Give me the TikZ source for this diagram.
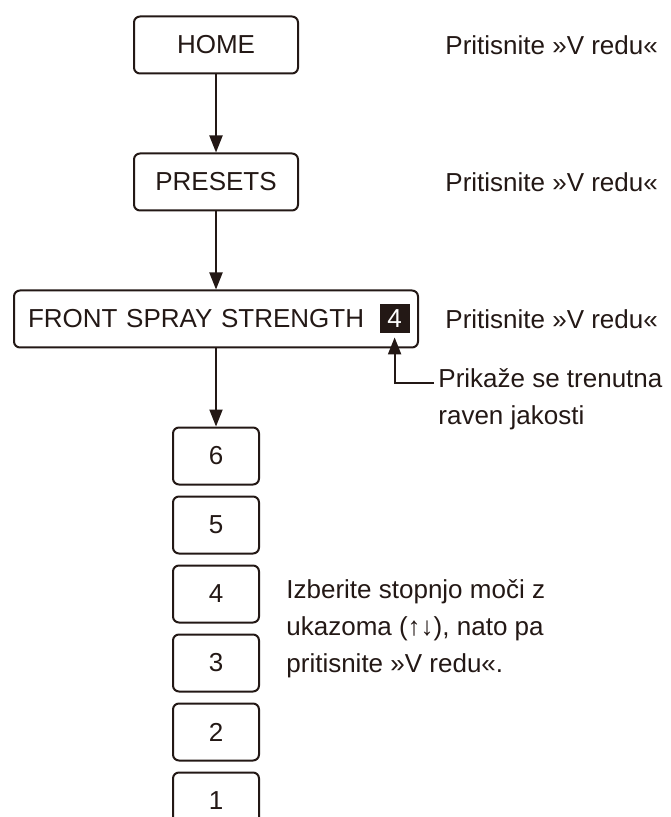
\documentclass[tikz,border=0pt]{standalone}
\usepackage{fontspec}
\setmainfont{Liberation Sans}
\usepackage{tikz}
\usetikzlibrary{arrows.meta,positioning,calc}
\usepackage{xcolor}
\definecolor{ink}{HTML}{231815}
\tikzset{
  panel/.style={draw=ink,line width=1pt,rounded corners=3pt,align=center,
    minimum height=28.5pt,inner sep=0pt,text=ink,font=\fontsize{13pt}{18.5pt}\selectfont},
  menu/.style={panel,minimum width=82pt},
  levelbox/.style={panel,minimum width=43pt},
  indicator/.style={fill=ink,text=white,minimum width=15pt,minimum height=14.5pt,
    inner sep=0pt,font=\fontsize{13pt}{18.5pt}\selectfont},
  note/.style={align=left,inner sep=0pt,text=ink,font=\fontsize{13pt}{18.5pt}\selectfont},
  arrow/.style={-{Triangle[length=8.5pt,width=6.5pt]},draw=ink,line width=1pt}
}
\begin{document}
\begin{tikzpicture}[node distance=39pt and 13pt]
  \useasboundingbox (0,0) rectangle (335pt,-408.5pt);
  \node[menu] (home) at (108pt,-22.5pt) {HOME};
  \node[menu,below=of home] (presets) {PRESETS};
  \node[panel,below=of presets,text width=188pt,inner xsep=7pt,align=left] (front) {FRONT SPRAY STRENGTH};
  \node[indicator,left=4.5pt of front.east] (lvl) {4};
  \node[levelbox,below=of front] (s6) {6};
  \foreach \up/\dn in {6/5,5/4,4/3,3/2,2/1}
    \node[levelbox,below=5pt of s\up] (s\dn) {\dn};
  \draw[arrow] (home) -- (presets);
  \draw[arrow] (presets) -- (front);
  \draw[arrow] (front) -- (s6);
  \coordinate (col) at ([xshift=13pt]front.east);
  \node[note,anchor=west] (okhome) at (home -| col) {Pritisnite »V redu«};
  \node[note,anchor=west] (okpresets) at (presets -| col) {Pritisnite »V redu«};
  \node[note,anchor=west] (okfront) at (front -| col) {Pritisnite »V redu«};
  \node[note,anchor=north west] (cur) at ([shift={(9.5pt,-10pt)}]front.south east) {Prikaže se trenutna\\raven jakosti};
  \draw[arrow] ([shift={(-2pt,-7.1pt)}]cur.north west) -| ([yshift=-1.75pt]lvl.south);
  \node[note,anchor=west] (hint) at ([xshift=13pt]$(s4.south east)!.5!(s3.north east)$) {Izberite stopnjo moči z\\ukazoma (↑↓), nato pa\\pritisnite »V redu«.};
\end{tikzpicture}
\end{document}
